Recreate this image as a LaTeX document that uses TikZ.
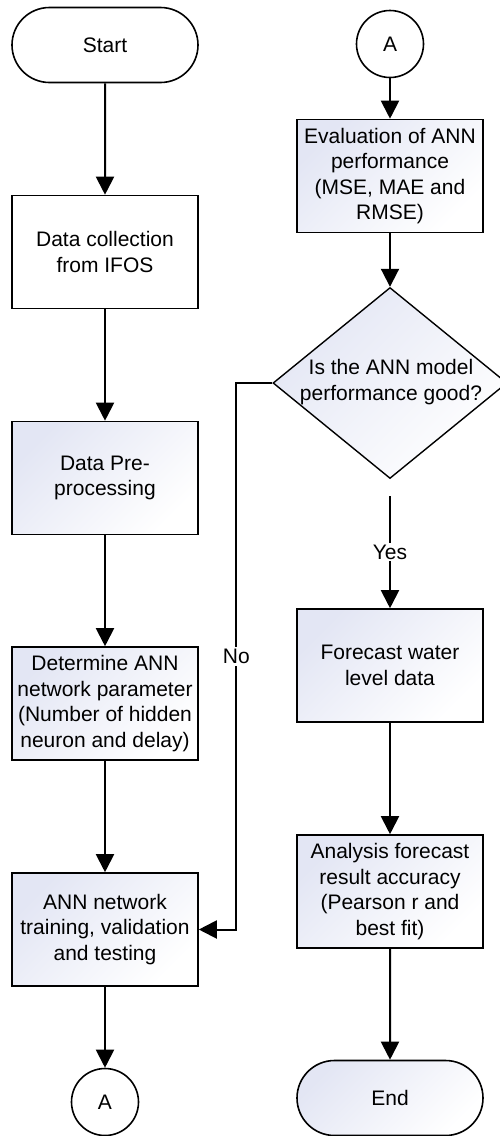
\documentclass[tikz,border=0pt]{standalone}
\usepackage{fontspec}
\setmainfont{Liberation Sans}
\usetikzlibrary{arrows.meta,shapes.geometric,shapes.misc}
\definecolor{lav}{RGB}{227,230,244}
\begin{document}
\begin{tikzpicture}[x=1pt,y=-1pt,
  every node/.style={font=\fontsize{21}{25.5}\selectfont, text=black},
  grad/.style={top color=lav, bottom color=white, shading angle=45},
  boxbase/.style={rectangle, draw, line width=1.6pt, minimum width=186pt, minimum height=113pt, inner sep=0pt, align=center},
  plainbox/.style={boxbase, fill=white},
  proc/.style={boxbase, grad},
  term/.style={rounded rectangle, draw, line width=1.6pt, minimum width=186pt, minimum height=75pt, inner sep=0pt},
  conncirc/.style={circle, draw, line width=1.6pt, minimum size=67pt, inner sep=0pt, fill=white},
  dia/.style={diamond, draw, line width=1.4pt, minimum width=234pt, minimum height=191pt, inner sep=0pt, grad},
  conn/.style={line width=2pt, -{Triangle[length=18pt,width=18pt]}},
  lbl/.style={fill=white, inner sep=2pt}
]
\useasboundingbox (0,0) rectangle (499,1136);

% left column
\node[term, fill=white] (start) at (105,45) {Start};
\node[plainbox] (b1) at (105,252) {Data collection\\from IFOS};
\node[proc] (b2) at (105,478) {Data Pre-\\processing};
\node[proc] (b3) at (105,703.5) {Determine ANN\\network parameter\\(Number of hidden\\neuron and delay)};
\node[proc] (b4) at (105,929.5) {ANN network\\training, validation\\and testing};
\node[conncirc] (a1) at (105,1102) {A};

% right column
\node[conncirc] (a2) at (390,44) {A};
\node[proc] (ev) at (390,176) {Evaluation of ANN\\performance\\(MSE, MAE and\\RMSE)};
\node[dia] (dec) at (390,383) {};
\node[align=center, inner sep=0pt] (dectext) at (391,382) {Is the ANN model\\performance good?};
\coordinate (ys) at (390,496);
\node[proc] (fc) at (390,665.5) {Forecast water\\level data};
\node[proc] (an) at (390,891.5) {Analysis forecast\\result accuracy\\(Pearson r and\\best fit)};
\node[term, grad] (end) at (390,1098) {End};

% connectors
\draw[conn] (start) -- (b1);
\draw[conn] (b1) -- (b2);
\draw[conn] (b2) -- (b3);
\draw[conn] (b3) -- (b4);
\draw[conn] (b4) -- (a1);
\draw[conn] (a2) -- (ev);
\draw[conn] (ev) -- (dec);
\draw[conn] (ys) -- node[lbl] {Yes} (fc);
\draw[conn] (fc) -- (an);
\draw[conn] (an) -- (end);
\draw[conn] (dec.west) -- ++(-36,0) |- node[lbl, pos=0.25] {No} (b4.east);
\end{tikzpicture}
\end{document}
